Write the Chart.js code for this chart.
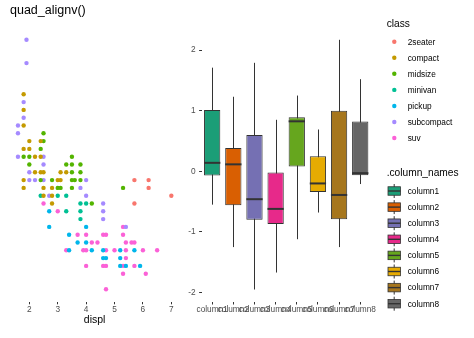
<!DOCTYPE html>
<html>
<head>
<meta charset="utf-8">
<script src="https://cdn.jsdelivr.net/npm/chart.js@4.4.1/dist/chart.umd.min.js"></script>
<style>
  body { margin: 0; width: 474px; height: 338px; background: #fff; overflow: hidden; position: relative; }
  canvas { position: absolute; top: 0; }
  #scatter { left: 0; }
  #boxes { left: 180px; }
  #keys { position: absolute; left: 0; top: 0; pointer-events: none; font-family: "Liberation Sans", Arial, sans-serif; }
</style>
</head>
<body>
<canvas id="scatter" width="180" height="338"></canvas>
<canvas id="boxes" width="200" height="338"></canvas>
<svg id="keys" width="474" height="338"></svg>
<script>
// mpg: displ vs hwy, one list of [displ, hwy] per class
const classNames = ["2seater", "compact", "midsize", "minivan", "pickup", "subcompact", "suv"];
const classColors = ["#F8766D", "#C49A00", "#53B400", "#00C094", "#00B6EB", "#A58AFF", "#FB61D7"];
const twoseater = [[5.7,26],[6.2,26],[6.2,25],[7.0,24],[5.7,23]];
const compact = [[1.8,37],[1.8,35],[1.8,33],[2.0,31],[2.4,31],[1.8,30],[2.0,30],[2.2,29],[2.4,29],
  [2.2,27],[2.4,27],[2.5,27],[3.1,27],[3.3,27],[1.8,26],[3.0,26],[3.1,26],[1.8,25],[2.5,25],[2.8,25],
  [2.5,24],[2.8,24],[2.8,23]];
const midsize = [[2.5,32],[2.5,31],[2.4,30],[1.8,29],[2.0,29],[3.5,29],[2.0,28],[3.3,28],[3.5,28],[3.8,28],
  [3.5,27],[3.8,27],[2.4,26],[2.8,26],[3.5,26],[3.6,26],[3.8,26],[3.0,25],[3.1,25],[3.5,25],[5.3,25],[4.2,23]];
const minivan = [[2.4,24],[3.0,24],[3.3,24],[3.8,23],[4.0,23],[3.3,22],[3.8,22],[3.8,21]];
const pickup = [[2.7,22],[2.7,20],[4.0,20],[3.4,19],[3.7,18],[4.0,18],[3.4,17],[4.2,17],[4.6,17],[5.2,17],
  [5.7,17],[4.6,16],[4.7,16],[5.2,16],[5.2,15],[5.4,15],[5.9,15]];
const subcompact = [[1.9,44],[1.9,41],[1.8,36],[1.8,34],[1.6,33],[1.6,32],[1.6,29],[2.5,29],[2.5,28],
  [2.0,27],[2.0,26],[2.2,26],[2.5,26],[4.0,26],[3.8,25],[2.7,24],[4.0,24],[4.6,23],[4.6,22],[4.6,21],[5.4,20]];
const suv = [[2.5,23],[3.0,22],[5.3,20],[3.7,19],[4.0,19],[4.6,19],[4.7,19],[5.3,19],[4.2,18],[4.4,18],
  [5.4,18],[5.6,18],[5.7,18],[3.3,17],[3.9,17],[4.0,17],[4.7,17],[5.0,17],[5.4,17],[6.0,17],[6.5,17],
  [5.4,16],[4.0,15],[4.6,15],[4.7,15],[5.3,15],[5.7,15],[5.3,14],[6.1,14],[4.7,12]];
const classPoints = [twoseater, compact, midsize, minivan, pickup, subcompact, suv];
const displTicks = [2, 3, 4, 5, 6, 7];

// boxplot summary per column
const columnNames = ["column1", "column2", "column3", "column4", "column5", "column6", "column7", "column8"];
const boxColors = ["#1B9E77", "#D95F02", "#7570B3", "#E7298A", "#66A61E", "#E6AB02", "#A6761D", "#666666"];
const whiskerLow  = [-0.55, -1.25, -1.95, -1.67, -1.12, -0.68, -1.25, -0.21];
const lowerQ      = [-0.07, -0.56, -0.80, -0.87,  0.08, -0.34, -0.79, -0.065];
const medians     = [ 0.14,  0.115, -0.46, -0.62, 0.825, -0.20, -0.39, -0.03];
const upperQ      = [ 1.01,  0.385, 0.60, -0.02,  0.89,  0.25,  1.00,  0.82];
const whiskerHigh = [ 1.71,  1.23,  1.79,  0.85,  1.25,  0.69,  2.17,  1.52];
const valueTicks = [-2, -1, 0, 1, 2];

const FONT = "'Liberation Sans', Arial, sans-serif";
const INK = "#333333";

new Chart("scatter", {
  type: "scatter",
  data: {
    datasets: classNames.map((name, i) => ({
      label: name,
      data: classPoints[i].map(p => ({ x: p[0], y: p[1] })),
      backgroundColor: classColors[i],
      borderWidth: 0,
      pointRadius: 2.2
    }))
  },
  options: {
    responsive: false,
    animation: false,
    events: [],
    layout: { autoPadding: false, padding: { top: 27.2, left: 10.3, right: 1, bottom: 0 } },
    plugins: { legend: { display: false }, tooltip: { enabled: false } },
    scales: {
      x: {
        type: "linear", min: 1.33, max: 7.27,
        afterBuildTicks: s => { s.ticks = displTicks.map(v => ({ value: v })); },
        afterFit: s => { s.height = 36.2; },
        border: { display: false },
        grid: { drawOnChartArea: false, drawTicks: true, tickLength: 2.5, color: INK },
        ticks: { padding: 1.5, color: "#4d4d4d", font: { family: FONT, size: 8.3, lineHeight: 1 } },
        title: { display: true, text: "displ", color: "#000", padding: { top: 0, bottom: 12.5 },
                 font: { family: FONT, size: 10.5, lineHeight: 1 } }
      },
      y: { type: "linear", display: false, min: 10.4, max: 45.6 }
    }
  }
});

// whiskers behind the boxes, medians on top
const boxLines = {
  id: "boxLines",
  beforeDatasetsDraw(chart) {
    const { ctx } = chart, y = chart.scales.y;
    ctx.save();
    ctx.strokeStyle = INK;
    ctx.lineWidth = 1;
    chart.getDatasetMeta(0).data.forEach((bar, i) => {
      const x = Math.round(bar.x) + 0.5;
      ctx.beginPath();
      ctx.moveTo(x, y.getPixelForValue(whiskerHigh[i]));
      ctx.lineTo(x, y.getPixelForValue(whiskerLow[i]));
      ctx.stroke();
    });
    ctx.restore();
  },
  afterDatasetsDraw(chart) {
    const { ctx } = chart, y = chart.scales.y;
    ctx.save();
    ctx.strokeStyle = INK;
    ctx.lineWidth = 2;
    chart.getDatasetMeta(0).data.forEach((bar, i) => {
      const py = y.getPixelForValue(medians[i]);
      ctx.beginPath();
      ctx.moveTo(bar.x - bar.width / 2, py);
      ctx.lineTo(bar.x + bar.width / 2, py);
      ctx.stroke();
    });
    ctx.restore();
  }
};

new Chart("boxes", {
  type: "bar",
  data: {
    labels: columnNames,
    datasets: [{
      data: columnNames.map((_, i) => [lowerQ[i], upperQ[i]]),
      backgroundColor: boxColors,
      borderColor: INK,
      borderWidth: 1,
      borderSkipped: false,
      barPercentage: 0.77,
      categoryPercentage: 1
    }]
  },
  plugins: [boxLines],
  options: {
    responsive: false,
    animation: false,
    events: [],
    layout: { autoPadding: false, padding: { top: 27.3, left: 0, right: 9.2, bottom: 0 } },
    plugins: { legend: { display: false }, tooltip: { enabled: false } },
    scales: {
      x: {
        type: "category", offset: true,
        afterFit: s => { s.height = 36; },
        border: { display: false },
        grid: { offset: false, drawOnChartArea: false, drawTicks: true, tickLength: 2.5, color: INK },
        ticks: { autoSkip: false, maxRotation: 0, minRotation: 0, padding: 1.5, color: "#4d4d4d",
                 font: { family: FONT, size: 8.3, lineHeight: 1 } }
      },
      y: {
        type: "linear", min: -2.156, max: 2.376,
        afterBuildTicks: s => { s.ticks = valueTicks.map(v => ({ value: v })); },
        afterFit: s => { s.width = 21.6; },
        border: { display: false },
        grid: { drawOnChartArea: false, drawTicks: true, tickLength: 2.5, color: INK },
        ticks: { padding: 3.5, color: "#4d4d4d", callback: v => String(v),
                 font: { family: FONT, size: 8.3, lineHeight: 1 } }
      }
    }
  }
});

// title and the two legends
const svg = document.getElementById("keys");
const NS = "http://www.w3.org/2000/svg";
function add(tag, attrs, text) {
  const el = document.createElementNS(NS, tag);
  for (const k in attrs) el.setAttribute(k, attrs[k]);
  if (text) el.textContent = text;
  svg.appendChild(el);
  return el;
}

add("text", { x: 10, y: 14.3, "font-size": 12.5, fill: "#000" }, "quad_alignv()");

add("text", { x: 386.7, y: 27.3, "font-size": 10.2, fill: "#000" }, "class");
classNames.forEach((name, i) => {
  const cy = 41.7 + i * 16.06;
  add("circle", { cx: 394.3, cy: cy, r: 2.2, fill: classColors[i] });
  add("text", { x: 407.7, y: cy + 2.8, "font-size": 8.3, fill: "#000" }, name);
});

add("text", { x: 386.7, y: 176.3, "font-size": 10.2, fill: "#000" }, ".column_names");
columnNames.forEach((name, i) => {
  const cy = 191 + i * 16.1;
  add("line", { x1: 394.2, x2: 394.2, y1: cy - 7, y2: cy + 7, stroke: INK, "stroke-width": 1 });
  add("rect", { x: 388, y: cy - 4.25, width: 12.5, height: 8.5, fill: boxColors[i], stroke: INK, "stroke-width": 0.8 });
  add("line", { x1: 388, x2: 400.5, y1: cy, y2: cy, stroke: INK, "stroke-width": 1.4 });
  add("text", { x: 407.7, y: cy + 2.8, "font-size": 8.3, fill: "#000" }, name);
});
</script>
</body>
</html>
